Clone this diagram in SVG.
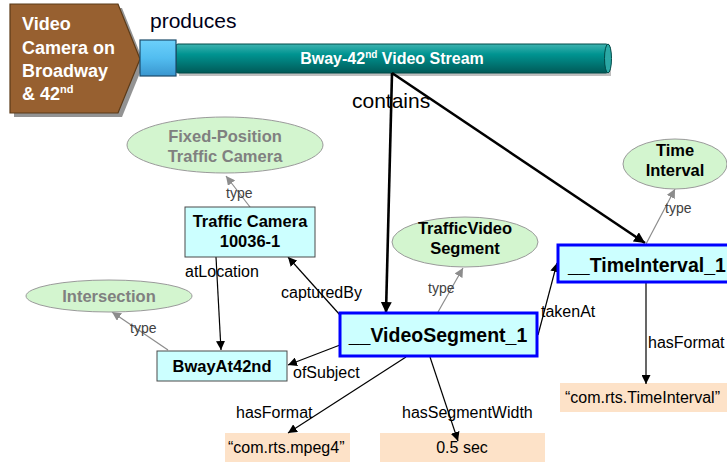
<svg xmlns="http://www.w3.org/2000/svg" width="727" height="462" viewBox="0 0 727 462">
  <defs>
    <linearGradient id="pipeGrad" x1="0" y1="0" x2="0" y2="1">
      <stop offset="0" stop-color="#3fb3b0"/>
      <stop offset="0.35" stop-color="#009491"/>
      <stop offset="1" stop-color="#005a58"/>
    </linearGradient>
    <linearGradient id="capGrad" x1="0" y1="0" x2="0" y2="1">
      <stop offset="0" stop-color="#6cd0fa"/>
      <stop offset="0.5" stop-color="#52bdf0"/>
      <stop offset="1" stop-color="#3a96cf"/>
    </linearGradient>
    <marker id="arrowBlack" viewBox="0 0 10 10" refX="10" refY="5" markerWidth="9" markerHeight="9" markerUnits="userSpaceOnUse" orient="auto">
      <path d="M0,0 L10,5 L0,10 z" fill="#000"/>
    </marker>
    <marker id="arrowBold" viewBox="0 0 10 10" refX="10" refY="5" markerWidth="11" markerHeight="11" markerUnits="userSpaceOnUse" orient="auto">
      <path d="M0,0 L10,5 L0,10 z" fill="#000"/>
    </marker>
    <marker id="arrowGrey" viewBox="0 0 10 10" refX="10" refY="5" markerWidth="9" markerHeight="9" markerUnits="userSpaceOnUse" orient="auto">
      <path d="M0,0 L10,5 L0,10 z" fill="#8c8c8c"/>
    </marker>
  </defs>
  <style>
    text { font-family: "Liberation Sans", Arial, sans-serif; }
    .cls { fill: #d3f5cf; stroke: #9a9a9a; stroke-width: 1; }
    .inst { fill: #ccffff; stroke: #4a4a4a; stroke-width: 1; }
    .main { fill: #ccffff; stroke: #0000ff; stroke-width: 3; }
    .lit { fill: #fde2c8; stroke: none; }
    .clsText { font-size: 16.5px; font-weight: bold; fill: #000; text-anchor: middle; }
    .greyText { font-size: 16.5px; font-weight: bold; fill: #808080; text-anchor: middle; }
    .instText { font-size: 16.5px; font-weight: bold; fill: #000; text-anchor: middle; }
    .mainText { font-size: 19.5px; font-weight: bold; fill: #000; }
    .litText { font-size: 16px; fill: #000; }
    .lbl { font-size: 16px; fill: #000; }
    .typeLbl { font-size: 14px; fill: #404040; }
    .edge { stroke: #000; stroke-width: 1.2; fill: none; marker-end: url(#arrowBlack); }
    .typeEdge { stroke: #8c8c8c; stroke-width: 1.2; fill: none; marker-end: url(#arrowGrey); }
    .bold { stroke: #000; stroke-width: 2.6; fill: none; marker-end: url(#arrowBold); }
    .camText { font-size: 18px; font-weight: bold; fill: #fff; }
  </style>

  <!-- Camera source -->
  <g id="camera">
    <polygon points="14,8 122,8 144,63 122,117 14,117" fill="#3a3a3a" opacity="0.55"/>
    <polygon points="10,4 118,4 140,59 118,113 10,113" fill="#976030" stroke="#5b3a18" stroke-width="1.2"/>
    <text class="camText" x="22" y="30">Video</text>
    <text class="camText" x="22" y="54">Camera on</text>
    <text class="camText" x="22" y="77">Broadway</text>
    <text class="camText" x="22" y="100">&amp; 42<tspan font-size="11" dy="-7">nd</tspan></text>
  </g>

  <!-- Video stream pipe -->
  <g id="stream">
    <rect x="179" y="47" width="432" height="29" fill="#2a2a2a" opacity="0.3"/>
    <rect x="176" y="44" width="432" height="29" rx="2" fill="url(#pipeGrad)" stroke="#004a48" stroke-width="1"/>
    <ellipse cx="608" cy="58.5" rx="3.5" ry="14.5" fill="#2aa8a5" stroke="#004a48" stroke-width="1"/>
    <rect x="140" y="40" width="36" height="36" fill="url(#capGrad)" stroke="#1d4c6b" stroke-width="1.2"/>
    <text x="392" y="64" font-size="16px" font-weight="bold" fill="#fff" text-anchor="middle">Bway-42<tspan font-size="10" dy="-6">nd</tspan><tspan dy="6"> Video Stream</tspan></text>
  </g>

  <!-- Literal value boxes (drawn under the connectors) -->
  <g id="timeIntervalFormat">
    <rect class="lit" x="560" y="383" width="170" height="29"/>
    <text class="litText" x="565" y="403">“com.rts.TimeInterval”</text>
  </g>

  <g id="videoFormat">
    <rect class="lit" x="225" y="433" width="125" height="29"/>
    <text class="litText" x="228" y="453">“com.rts.mpeg4”</text>
  </g>

  <g id="segmentWidth">
    <rect class="lit" x="380" y="433" width="165" height="29"/>
    <text class="litText" x="462" y="453" text-anchor="middle">0.5 sec</text>
  </g>

  <!-- Connectors -->
  <g id="connectors">
    <line class="bold" x1="392" y1="73" x2="386" y2="313"/>
    <line class="bold" x1="392" y1="73" x2="645" y2="243"/>
    <line class="typeEdge" x1="250" y1="207" x2="226" y2="176"/>
    <line class="edge" x1="216" y1="257" x2="221" y2="350"/>
    <line class="typeEdge" x1="168" y1="350" x2="112" y2="312"/>
    <line class="edge" x1="340" y1="315" x2="288" y2="257"/>
    <line class="edge" x1="340" y1="345" x2="288" y2="365"/>
    <line class="typeEdge" x1="438" y1="312" x2="463" y2="268"/>
    <line class="edge" x1="538" y1="335" x2="557" y2="263"/>
    <line class="typeEdge" x1="646" y1="244" x2="675" y2="189"/>
    <line class="edge" x1="646" y1="283" x2="646" y2="384"/>
    <line class="edge" x1="406" y1="357" x2="288" y2="433"/>
    <line class="edge" x1="430" y1="357" x2="458" y2="441"/>
  </g>

  <!-- Connector labels -->
  <g id="labels">
    <text x="150" y="28" font-size="21px" fill="#000018">produces</text>
    <text x="352" y="108" font-size="21px" fill="#000">contains</text>
    <text class="typeLbl" x="226" y="198">type</text>
    <text class="lbl" x="185" y="277">atLocation</text>
    <text class="typeLbl" x="130" y="333">type</text>
    <text class="lbl" x="281" y="298">capturedBy</text>
    <text class="lbl" x="293" y="378">ofSubject</text>
    <text class="typeLbl" x="428" y="293">type</text>
    <text class="lbl" x="541" y="317">takenAt</text>
    <text class="typeLbl" x="665" y="213">type</text>
    <text class="lbl" x="648" y="348">hasFormat</text>
    <text class="lbl" x="236" y="418">hasFormat</text>
    <text class="lbl" x="402" y="418">hasSegmentWidth</text>
  </g>

  <g id="fixedPositionCamera">
    <ellipse class="cls" cx="225" cy="145" rx="98" ry="28"/>
    <text class="greyText" x="225" y="142">Fixed-Position</text>
    <text class="greyText" x="225" y="162">Traffic Camera</text>
  </g>

  <g id="trafficCamera">
    <rect class="inst" x="185" y="207" width="130" height="50"/>
    <text class="instText" x="250" y="227">Traffic Camera</text>
    <text class="instText" x="250" y="247">10036-1</text>
  </g>

  <g id="intersection">
    <ellipse class="cls" cx="109" cy="296" rx="83" ry="16"/>
    <text class="greyText" x="109" y="302">Intersection</text>
  </g>

  <g id="bwayAt42nd">
    <rect class="inst" x="157" y="351" width="130" height="30"/>
    <text class="instText" x="222" y="372">BwayAt42nd</text>
  </g>

  <g id="trafficVideoSegment">
    <ellipse class="cls" cx="465" cy="242" rx="73" ry="25"/>
    <text class="clsText" x="465" y="234">TrafficVideo</text>
    <text class="clsText" x="465" y="254">Segment</text>
  </g>

  <g id="videoSegment">
    <rect class="main" x="340" y="313" width="197" height="43"/>
    <text class="mainText" x="438" y="342" text-anchor="middle">__VideoSegment_1</text>
  </g>

  <g id="timeIntervalClass">
    <ellipse class="cls" cx="675" cy="164" rx="52" ry="25"/>
    <text class="clsText" x="675" y="156">Time</text>
    <text class="clsText" x="675" y="176">Interval</text>
  </g>

  <g id="timeInterval">
    <rect class="main" x="558" y="245" width="175" height="37"/>
    <text class="mainText" x="568" y="272">__TimeInterval_1</text>
  </g>
</svg>
